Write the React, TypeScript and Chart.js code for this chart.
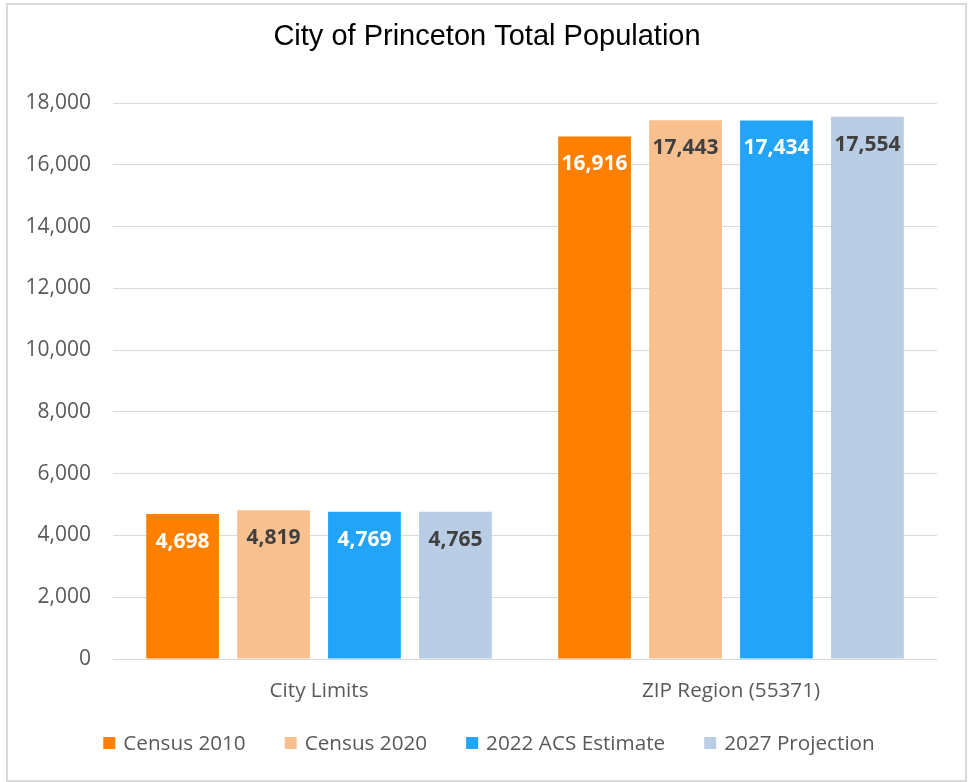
import React, { useEffect, useRef } from "react";
import { Chart, registerables } from "chart.js";

Chart.register(...registerables);

const categories = ["City Limits", "ZIP Region (55371)"];
const seriesNames = ["Census 2010", "Census 2020", "2022 ACS Estimate", "2027 Projection"];
const census2010 = [4698, 16916];
const census2020 = [4819, 17443];
const acs2022 = [4769, 17434];
const projection2027 = [4765, 17554];
const seriesColors = ["#FF7F00", "#F8C08F", "#22A5F9", "#B9CDE5"];
const labelColors = ["#FFFFFF", "#404040", "#FFFFFF", "#404040"];
const yTicks = [0, 2000, 4000, 6000, 8000, 10000, 12000, 14000, 16000, 18000];
const titleText = "City of Princeton Total Population";

const W = 969;
const H = 782;

const dataLabelPlugin = {
  id: "dataLabels",
  afterDatasetsDraw(chart: any) {
    const ctx = chart.ctx;
    ctx.save();
    ctx.font = "bold 21px 'Open Sans'";
    ctx.textAlign = "center";
    ctx.textBaseline = "middle";
    chart.data.datasets.forEach((ds: any, di: number) => {
      const meta = chart.getDatasetMeta(di);
      meta.data.forEach((bar: any, i: number) => {
        ctx.fillStyle = labelColors[di];
        ctx.fillText(ds.data[i].toLocaleString("en-US"), bar.x, bar.y + 28);
      });
    });
    ctx.restore();
  },
};

const titlePlugin = {
  id: "customTitle",
  afterDraw(chart: any) {
    const ctx = chart.ctx;
    ctx.save();
    ctx.font = "29px 'Liberation Sans', Arial, sans-serif";
    ctx.textAlign = "center";
    ctx.textBaseline = "alphabetic";
    ctx.fillStyle = "#000000";
    ctx.fillText(titleText, 487, 45);
    ctx.restore();
  },
};

const legendPlugin = {
  id: "customLegend",
  afterDraw(chart: any) {
    const ctx = chart.ctx;
    ctx.save();
    ctx.font = "20.7px 'Open Sans'";
    ctx.textBaseline = "middle";
    ctx.textAlign = "left";
    const box = 12;
    const gapBoxText = 8;
    const gapItems = 39;
    const widths = seriesNames.map((n) => box + gapBoxText + ctx.measureText(n).width);
    const total = widths.reduce((a, b) => a + b, 0) + gapItems * (seriesNames.length - 1);
    const cx = 489;
    const cy = 743;
    let x = cx - total / 2;
    seriesNames.forEach((n, i) => {
      ctx.fillStyle = seriesColors[i];
      ctx.fillRect(x, cy - box / 2, box, box);
      ctx.fillStyle = "#595959";
      ctx.fillText(n, x + box + gapBoxText, cy + 1);
      x += widths[i] + gapItems;
    });
    ctx.restore();
  },
};

export default function App() {
  const ref = useRef<HTMLCanvasElement | null>(null);

  useEffect(() => {
    document.body.style.margin = "0";
    const canvas = ref.current;
    if (!canvas) return;
    const seriesData = [census2010, census2020, acs2022, projection2027];
    const chart = new Chart(canvas, {
      type: "bar",
      data: {
        labels: categories,
        datasets: seriesNames.map((name, i) => ({
          label: name,
          data: seriesData[i],
          backgroundColor: seriesColors[i],
          borderWidth: 0,
          categoryPercentage: 0.883,
          barPercentage: 0.8,
        })),
      },
      options: {
        responsive: false,
        animation: false,
        devicePixelRatio: 1,
        layout: { padding: { left: 0, right: 32, top: 103, bottom: 73 } },
        plugins: {
          legend: { display: false },
          tooltip: { enabled: false },
          title: { display: false },
        },
        scales: {
          x: {
            grid: { display: false },
            border: { display: false },
            ticks: {
              color: "#595959",
              font: { family: "'Open Sans'", size: 20.7 },
              padding: 12,
              maxRotation: 0,
            },
            afterFit(scale: any) {
              scale.height = 50;
            },
          },
          y: {
            min: 0,
            max: 18000,
            grid: { color: "#D9D9D9", lineWidth: 1, drawTicks: false },
            border: { display: false },
            afterBuildTicks(scale: any) {
              scale.ticks = yTicks.map((v) => ({ value: v }));
            },
            ticks: {
              color: "#595959",
              font: { family: "'Open Sans'", size: 21 },
              padding: 22,
              callback: (v: any) => Number(v).toLocaleString("en-US"),
            },
            afterFit(scale: any) {
              scale.width = 113;
            },
          },
        },
      },
      plugins: [dataLabelPlugin, titlePlugin, legendPlugin],
    });
    return () => chart.destroy();
  }, []);

  return (
    <div style={{ position: "relative", width: W, height: H, background: "#ffffff", overflow: "hidden" }}>
      <div
        style={{
          position: "absolute",
          left: 6,
          top: 3,
          width: 961,
          height: 779,
          border: "2px solid #D9D9D9",
          boxSizing: "border-box",
        }}
      />
      <canvas ref={ref} width={W} height={H} style={{ position: "absolute", left: 0, top: 0, width: W, height: H }} />
    </div>
  );
}
